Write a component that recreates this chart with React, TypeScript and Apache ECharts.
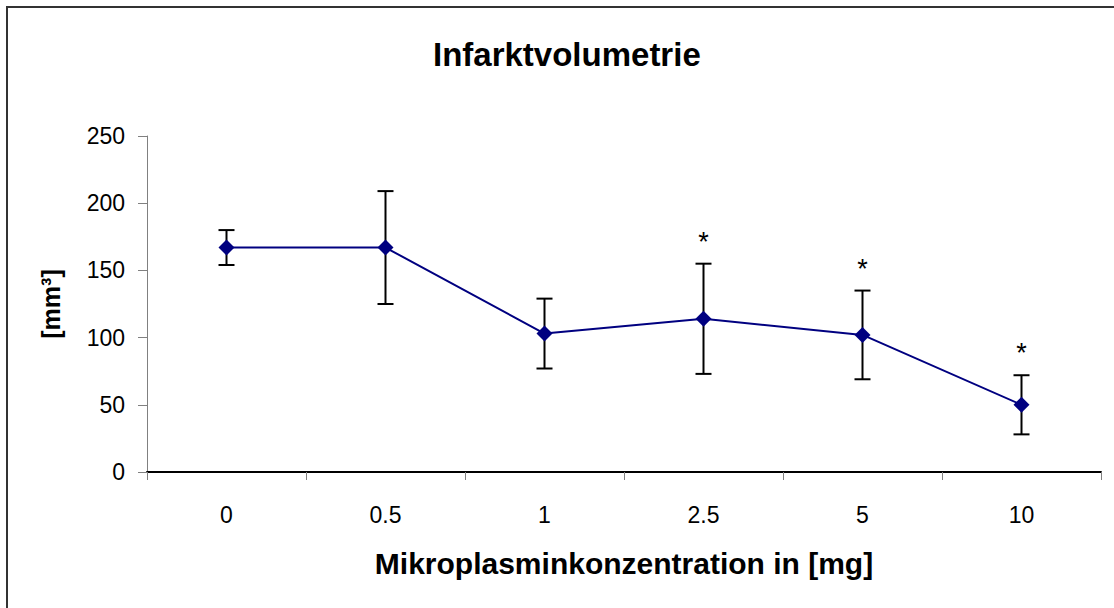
import React, { useEffect, useRef } from "react";
import * as echarts from "echarts";

const categories = ["0", "0.5", "1", "2.5", "5", "10"];
const means = [167, 167, 103, 114, 102, 50];
const sds = [13, 42, 26, 41, 33, 22];
const significant = ["2.5", "5", "10"];
const yTicks = [0, 50, 100, 150, 200, 250];

const FONT = "'Liberation Sans', Arial, sans-serif";

export default function App() {
  const ref = useRef<HTMLDivElement>(null);
  useEffect(() => {
    document.body.style.margin = "0";
    if (!ref.current) return;
    const chart = echarts.init(ref.current, undefined, { renderer: "svg" });
    const errData = categories.map((c, i) => [i, means[i] - sds[i], means[i] + sds[i]]);
    const starData = categories
      .map((c, i) => [i, means[i] + sds[i]])
      .filter((d) => significant.includes(categories[d[0]]));
    chart.setOption({
      animation: false,
      backgroundColor: "#ffffff",
      title: {
        text: "Infarktvolumetrie",
        left: 428,
        top: 33,
        textStyle: { fontFamily: FONT, fontWeight: "bold", fontSize: 33, color: "#000" },
      },
      graphic: [
        {
          type: "rect",
          shape: { x: 7, y: 7, width: 1130, height: 630 },
          style: { fill: "none", stroke: "#333", lineWidth: 2 },
          silent: true,
        },
      ],
      grid: { left: 147, right: 13, top: 136, bottom: 136, containLabel: false },
      xAxis: {
        type: "category",
        data: categories,
        boundaryGap: true,
        name: "Mikroplasminkonzentration in [mg]",
        nameLocation: "middle",
        nameGap: 76,
        nameTextStyle: { fontFamily: FONT, fontWeight: "bold", fontSize: 30, color: "#000" },
        axisLine: { lineStyle: { color: "#000", width: 2 } },
        axisTick: { show: true, length: 8, interval: 0, lineStyle: { color: "#808080", width: 1 } },
        axisLabel: { fontFamily: FONT, fontSize: 23, color: "#000", margin: 31, interval: 0 },
        splitLine: { show: false },
      },
      yAxis: {
        type: "value",
        min: 0,
        max: 250,
        interval: 50,
        name: "[mm³]",
        nameLocation: "middle",
        nameRotate: 90,
        nameGap: 84,
        nameTextStyle: { fontFamily: FONT, fontWeight: "bold", fontSize: 25, color: "#000" },
        axisLine: { show: true, lineStyle: { color: "#808080", width: 1 } },
        axisTick: { show: true, length: 9, lineStyle: { color: "#808080", width: 1 } },
        axisLabel: {
          fontFamily: FONT,
          fontSize: 23,
          color: "#000",
          margin: 22,
          formatter: (v: number) => (yTicks.includes(v) ? String(v) : ""),
        },
        splitLine: { show: false },
      },
      series: [
        {
          type: "custom",
          name: "err",
          data: errData,
          z: 3,
          renderItem: (params: any, api: any) => {
            const x = api.value(0);
            const lo = api.coord([x, api.value(1)]);
            const hi = api.coord([x, api.value(2)]);
            const hw = 8;
            const style = { stroke: "#000", lineWidth: 2 };
            return {
              type: "group",
              children: [
                { type: "line", shape: { x1: lo[0], y1: lo[1], x2: hi[0], y2: hi[1] }, style },
                { type: "line", shape: { x1: hi[0] - hw, y1: hi[1], x2: hi[0] + hw, y2: hi[1] }, style },
                { type: "line", shape: { x1: lo[0] - hw, y1: lo[1], x2: lo[0] + hw, y2: lo[1] }, style },
              ],
            };
          },
        },
        {
          type: "line",
          name: "Infarktvolumen",
          data: means,
          z: 4,
          symbol: "diamond",
          symbolSize: 16,
          itemStyle: { color: "#000080" },
          lineStyle: { color: "#000080", width: 2 },
        },
        {
          type: "custom",
          name: "sig",
          data: starData,
          z: 5,
          renderItem: (params: any, api: any) => {
            const p = api.coord([api.value(0), api.value(1)]);
            return {
              type: "text",
              x: p[0],
              y: p[1] - 22,
              style: {
                text: "*",
                fontFamily: FONT,
                fontSize: 27,
                fontWeight: "normal",
                fill: "#000",
                align: "center",
                verticalAlign: "middle",
              },
            };
          },
        },
      ],
    });
    return () => chart.dispose();
  }, []);
  return <div ref={ref} style={{ width: 1114, height: 608 }} />;
}
